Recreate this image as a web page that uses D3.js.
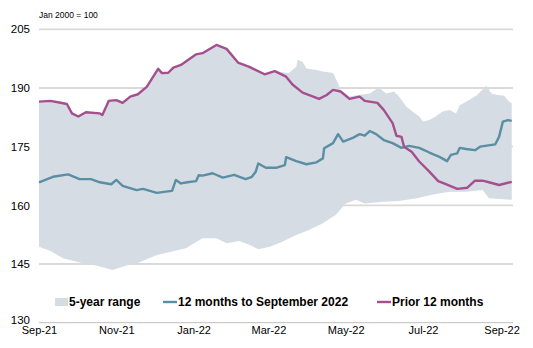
<!DOCTYPE html>
<html>
<head>
<meta charset="utf-8">
<script src="https://cdn.jsdelivr.net/npm/d3@7"></script>
<style>
  html, body { margin: 0; padding: 0; background: #fff; }
  svg { display: block; font-family: Arial, "Liberation Sans", sans-serif; }
</style>
</head>
<body>
<div id="chart"></div>
<script>
// ── Data (index, Jan 2000 = 100) ────────────────────────────────────────
const priorYear = [
  ["2021-09-01",186.5],["2021-09-10",186.7],["2021-09-17",186.3],["2021-09-23",185.9],
  ["2021-09-27",183.5],["2021-10-02",182.7],["2021-10-08",183.8],["2021-10-19",183.5],
  ["2021-10-21",183.1],["2021-10-26",186.7],["2021-11-01",186.9],["2021-11-06",186.2],
  ["2021-11-12",187.8],["2021-11-18",188.4],["2021-11-25",190.3],["2021-12-04",194.9],
  ["2021-12-07",193.8],["2021-12-12",193.9],["2021-12-16",195.2],["2021-12-22",195.9],
  ["2022-01-03",198.6],["2022-01-08",198.9],["2022-01-19",201.0],["2022-01-27",200.0],
  ["2022-02-05",196.5],["2022-02-14",195.4],["2022-02-26",193.5],["2022-03-06",194.3],
  ["2022-03-15",192.9],["2022-03-20",190.9],["2022-03-28",188.8],["2022-04-10",187.2],
  ["2022-04-16",188.2],["2022-04-21",189.5],["2022-04-27",189.1],["2022-05-04",187.2],
  ["2022-05-12",187.8],["2022-05-16",186.7],["2022-05-26",186.2],["2022-05-31",184.4],
  ["2022-06-07",181.0],["2022-06-10",177.8],["2022-06-14",177.5],["2022-06-16",175.0],
  ["2022-06-22",173.7],["2022-06-28",171.2],["2022-07-06",168.6],["2022-07-13",166.2],
  ["2022-07-19",165.4],["2022-07-28",164.2],["2022-08-05",164.5],["2022-08-11",166.3],
  ["2022-08-17",166.3],["2022-08-22",165.9],["2022-08-30",165.2],["2022-09-09",166.0]
];

const currentYear = [
  ["2021-09-01",165.9],["2021-09-12",167.3],["2021-09-24",167.9],["2021-10-03",166.7],
  ["2021-10-12",166.7],["2021-10-19",165.9],["2021-10-28",165.4],["2021-11-01",166.5],
  ["2021-11-06",165.0],["2021-11-17",163.9],["2021-11-22",164.2],["2021-12-03",163.2],
  ["2021-12-10",163.5],["2021-12-15",163.7],["2021-12-18",166.5],["2021-12-22",165.6],
  ["2021-12-27",165.9],["2022-01-03",166.2],["2022-01-05",167.7],["2022-01-08",167.6],
  ["2022-01-16",168.2],["2022-01-24",167.1],["2022-02-02",167.8],["2022-02-11",166.7],
  ["2022-02-16",167.3],["2022-02-19",168.6],["2022-02-21",170.7],["2022-02-27",169.6],
  ["2022-03-07",169.6],["2022-03-14",170.3],["2022-03-15",172.3],["2022-03-23",171.3],
  ["2022-03-31",170.5],["2022-04-08",171.0],["2022-04-13",172.0],["2022-04-14",174.6],
  ["2022-04-21",175.9],["2022-04-25",178.2],["2022-04-29",176.3],["2022-05-07",177.3],
  ["2022-05-12",178.2],["2022-05-16",177.8],["2022-05-20",179.0],["2022-05-25",178.2],
  ["2022-05-31",176.7],["2022-06-07",175.9],["2022-06-14",174.7],["2022-06-20",175.2],
  ["2022-06-28",174.7],["2022-07-06",173.5],["2022-07-14",172.4],["2022-07-20",171.3],
  ["2022-07-23",172.9],["2022-07-28",173.3],["2022-07-30",174.7],["2022-08-04",174.4],
  ["2022-08-11",174.1],["2022-08-15",175.0],["2022-08-27",175.6],["2022-08-30",177.5],
  ["2022-09-02",181.4],["2022-09-06",181.8],["2022-09-09",181.6]
];

const rangeHigh = [
  ["2021-09-01",186.5],["2021-09-10",186.7],["2021-09-17",186.3],["2021-09-23",185.9],
  ["2021-09-27",183.5],["2021-10-02",182.7],["2021-10-08",183.8],["2021-10-19",183.5],
  ["2021-10-21",183.1],["2021-10-26",186.7],["2021-11-01",186.9],["2021-11-06",186.2],
  ["2021-11-12",187.8],["2021-11-18",188.4],["2021-11-25",190.3],["2021-12-04",194.9],
  ["2021-12-07",193.8],["2021-12-12",193.9],["2021-12-16",195.2],["2021-12-22",195.9],
  ["2022-01-03",198.6],["2022-01-08",198.9],["2022-01-19",201.0],["2022-01-27",200.0],
  ["2022-02-05",196.5],["2022-02-14",195.4],["2022-02-26",193.5],["2022-03-06",194.3],
  ["2022-03-17",193.8],["2022-03-23",195.4],["2022-03-24",197.2],["2022-03-28",196.7],
  ["2022-03-31",195.0],["2022-04-08",194.6],["2022-04-13",194.2],["2022-04-21",193.8],
  ["2022-04-25",191.2],["2022-04-27",189.5],["2022-05-04",187.8],["2022-05-11",188.2],
  ["2022-05-20",188.6],["2022-05-27",190.1],["2022-06-02",188.6],["2022-06-08",189.1],
  ["2022-06-12",187.8],["2022-06-18",185.2],["2022-06-23",183.9],["2022-06-28",182.7],
  ["2022-07-01",181.4],["2022-07-06",181.8],["2022-07-11",182.7],["2022-07-16",183.9],
  ["2022-07-22",184.4],["2022-07-27",183.5],["2022-07-30",185.6],["2022-08-05",186.7],
  ["2022-08-12",188.0],["2022-08-20",190.6],["2022-08-24",188.6],["2022-08-29",188.2],
  ["2022-09-03",188.0],["2022-09-07",186.5],["2022-09-09",186.1]
];

const rangeLow = [
  ["2021-09-01",149.4],["2021-09-10",148.3],["2021-09-20",146.5],["2021-10-03",145.4],
  ["2021-10-16",144.6],["2021-10-29",143.5],["2021-11-09",144.6],["2021-11-19",145.4],
  ["2021-12-03",147.3],["2021-12-15",148.2],["2021-12-26",149.0],["2022-01-03",150.6],
  ["2022-01-08",151.6],["2022-01-19",151.6],["2022-01-27",150.3],["2022-02-06",150.9],
  ["2022-02-14",149.9],["2022-02-21",148.8],["2022-03-02",149.4],["2022-03-12",150.7],
  ["2022-03-23",152.4],["2022-04-02",153.7],["2022-04-13",155.4],["2022-04-23",157.5],
  ["2022-05-01",160.5],["2022-05-09",161.4],["2022-05-16",160.5],["2022-05-31",160.9],
  ["2022-06-12",161.1],["2022-06-26",161.8],["2022-07-09",162.8],["2022-07-22",163.5],
  ["2022-08-04",163.5],["2022-08-17",163.9],["2022-08-22",161.8],["2022-09-09",161.4]
];

const yTicks = [130, 145, 160, 175, 190, 205];
const xTicks = ["2021-09-01","2021-11-01","2022-01-01","2022-03-01","2022-05-01","2022-07-01","2022-09-01"];
const xDomain = ["2021-09-01","2022-09-10"];

const legendItems = [
  { label: "5-year range", kind: "area" },
  { label: "12 months to September 2022", kind: "current" },
  { label: "Prior 12 months", kind: "prior" }
];

// ── Palette ─────────────────────────────────────────────────────────────
const AREA_C = "#d6dce4";
const CURR_C = "#5a8ea3";
const PRIOR_C = "#a44f8e";
const GRID_C = "#d9d9d9";
const AXIS_C = "#bfbfbf";

// ── Chart ───────────────────────────────────────────────────────────────
const W = 533, H = 348;
const parse = d3.timeParse("%Y-%m-%d");

const svg = d3.select("#chart").append("svg")
  .attr("width", W).attr("height", H);

const x = d3.scaleTime()
  .domain(xDomain.map(parse))
  .range([39, 513]);

const y = d3.scaleLinear()
  .domain([130, 205])
  .range([322.7, 29.3]);

// Gridlines (behind the area)
svg.append("g").selectAll("line")
  .data(yTicks.filter(t => t !== 130)).enter().append("line")
  .attr("x1", 39).attr("x2", 513)
  .attr("y1", d => y(d)).attr("y2", d => y(d))
  .attr("stroke", GRID_C).attr("stroke-width", 1.8);

// 5-year range band
const hi = rangeHigh.map(d => ({ date: parse(d[0]), v: d[1] }));
const lo = rangeLow.map(d => ({ date: parse(d[0]), v: d[1] }));
const bandPath = d3.line().x(d => x(d.date)).y(d => y(d.v));
svg.append("path")
  .attr("d", bandPath(hi) + bandPath(lo.slice().reverse()).replace(/^M/, "L") + "Z")
  .attr("fill", AREA_C);

// Bottom axis line
svg.append("line")
  .attr("x1", 39).attr("x2", 513)
  .attr("y1", y(130)).attr("y2", y(130))
  .attr("stroke", AXIS_C).attr("stroke-width", 1);

// Series lines
const line = d3.line().x(d => x(parse(d[0]))).y(d => y(d[1]));
svg.append("path").datum(currentYear)
  .attr("fill", "none").attr("stroke", CURR_C).attr("stroke-width", 2.4)
  .attr("stroke-linejoin", "round").attr("d", line);
svg.append("path").datum(priorYear)
  .attr("fill", "none").attr("stroke", PRIOR_C).attr("stroke-width", 2.4)
  .attr("stroke-linejoin", "round").attr("d", line);

// Y-axis labels
const yAxis = svg.append("g").attr("transform", "translate(30,0)")
  .call(d3.axisLeft(y).tickValues(yTicks).tickSize(0).tickPadding(0).tickFormat(d3.format("d")));
yAxis.select(".domain").remove();
yAxis.selectAll("text")
  .attr("fill", "#000").style("font-size", "11.5px").style("font-family", "Arial, 'Liberation Sans', sans-serif");
// lift the bottom label a touch so it clears the date labels
yAxis.selectAll(".tick").filter(d => d === 130).select("text").attr("dy", "0.1em");

// X-axis labels
const xAxis = svg.append("g").attr("transform", `translate(0,${y(130) + 3.5})`)
  .call(d3.axisBottom(x).tickValues(xTicks.map(parse)).tickSize(0).tickPadding(0)
    .tickFormat(d3.timeFormat("%b-%y")));
xAxis.select(".domain").remove();
xAxis.selectAll("text")
  .attr("fill", "#000").style("font-size", "11px").style("font-family", "Arial, 'Liberation Sans', sans-serif");

// Unit note
svg.append("text")
  .attr("x", 39).attr("y", 18)
  .style("font-size", "8.5px").attr("fill", "#000")
  .text("Jan 2000 = 100");

// Legend
const legendX = [55, 163, 377];
const legend = svg.append("g").attr("transform", "translate(0,302)");
legendItems.forEach((item, i) => {
  const g = legend.append("g").attr("transform", `translate(${legendX[i]},0)`);
  if (item.kind === "area") {
    g.append("rect").attr("x", 0).attr("y", -4).attr("width", 13).attr("height", 8).attr("fill", AREA_C);
  } else {
    g.append("line").attr("x1", 0).attr("x2", 14).attr("y1", 0).attr("y2", 0)
      .attr("stroke", item.kind === "current" ? CURR_C : PRIOR_C).attr("stroke-width", 2.4);
  }
  g.append("text")
    .attr("x", item.kind === "area" ? 14 : 15).attr("y", 0).attr("dy", "0.35em")
    .style("font-size", "12px").style("font-weight", "bold").attr("fill", "#000")
    .text(item.label);
});
</script>
</body>
</html>
